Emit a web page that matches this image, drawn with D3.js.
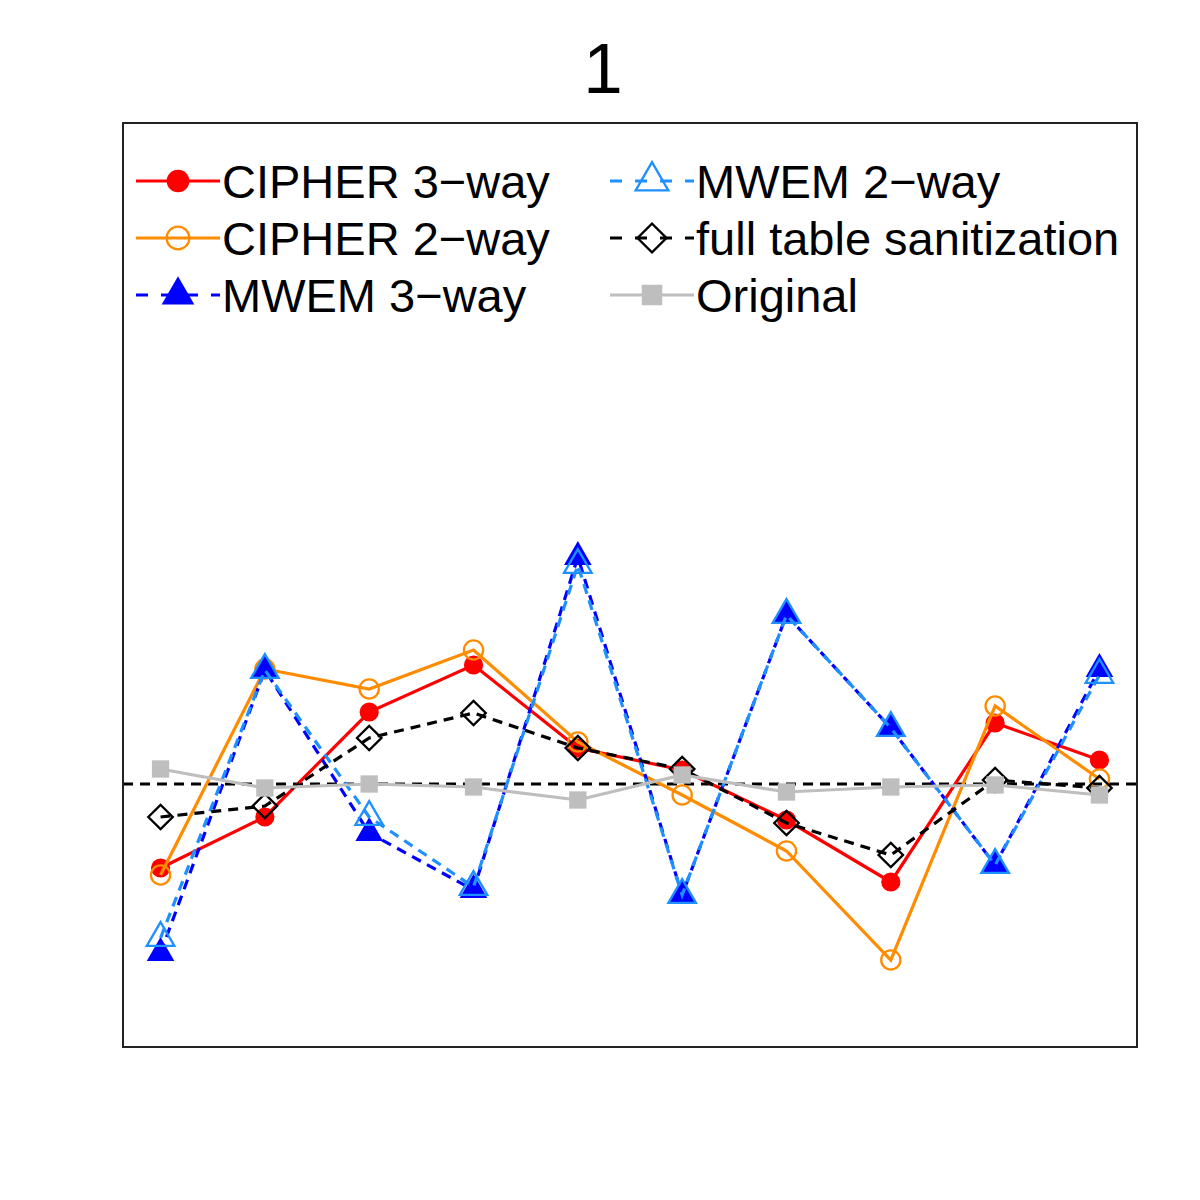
<!DOCTYPE html>
<html>
<head>
<meta charset="utf-8">
<script src="https://cdn.jsdelivr.net/npm/d3@7"></script>
<style>
  body { margin: 0; background: #fff; }
  text { font-family: "Liberation Sans", Arial, sans-serif; }
</style>
</head>
<body>
<svg id="chart" width="1200" height="1200"></svg>
<script>
// x positions are just the query index 1..10
const queries = [1, 2, 3, 4, 5, 6, 7, 8, 9, 10];

const cipher3 = [-0.84, -0.33, 0.72, 1.19, 0.36, 0.14, -0.36, -0.98, 0.61, 0.24];
const cipher2 = [-0.91, 1.15, 0.95, 1.34, 0.42, -0.11, -0.67, -1.76, 0.78, 0.05];
const mwem3 = [-1.69, 1.14, -0.49, -1.06, 2.27, -1.11, 1.69, 0.56, -0.81, 1.15];
const mwem2 = [-1.54, 1.14, -0.33, -1.03, 2.19, -1.11, 1.69, 0.56, -0.81, 1.09];
const fullTable = [-0.33, -0.22, 0.46, 0.71, 0.36, 0.15, -0.39, -0.71, 0.04, -0.04];
const original = [0.15, -0.04, 0.00, -0.03, -0.16, 0.09, -0.08, -0.03, -0.01, -0.11];

const seriesNames = ['CIPHER 3\u2212way', 'CIPHER 2\u2212way', 'MWEM 3\u2212way',
  'MWEM 2\u2212way', 'full table sanitization', 'Original'];

const chartTitle = '1';

const series = [
  { name: seriesNames[0], values: cipher3, color: '#ff0000', dash: null, shape: 'circle', fill: true },
  { name: seriesNames[1], values: cipher2, color: '#ff8c00', dash: null, shape: 'circle', fill: false },
  { name: seriesNames[2], values: mwem3, color: '#0000ff', dash: '10,7', shape: 'triangle', fill: true },
  { name: seriesNames[3], values: mwem2, color: '#1e90ff', dash: '10,7', shape: 'triangle', fill: false },
  { name: seriesNames[4], values: fullTable, color: '#000000', dash: '10,7', shape: 'diamond', fill: false },
  { name: seriesNames[5], values: original, color: '#bebebe', dash: null, shape: 'square', fill: true }
];

const box = { left: 123, right: 1137, top: 123, bottom: 1047 };

const svg = d3.select('#chart');

const x = d3.scaleLinear()
  .domain([0.64, 10.36])
  .range([box.left, box.right]);

const y = d3.scaleLinear()
  .domain([-2.63, 6.61])
  .range([box.bottom, box.top]);

const symbolFor = {
  circle: d3.symbolCircle,
  triangle: d3.symbolTriangle,
  diamond: d3.symbolSquare,
  square: d3.symbolSquare
};
const sizeFor = { circle: 290, triangle: 330, diamond: 300, square: 300 };

function drawMarker(g, s, cx, cy, k = 1) {
  const p = g.append('path')
    .attr('d', d3.symbol().type(symbolFor[s.shape]).size(sizeFor[s.shape] * k)())
    .attr('transform', `translate(${cx},${cy})` + (s.shape === 'diamond' ? ' rotate(45)' : ''));
  if (s.fill) {
    p.attr('fill', s.color).attr('stroke', 'none');
  } else {
    p.attr('fill', 'none').attr('stroke', s.color).attr('stroke-width', 2.3);
  }
}

// reference line at zero
svg.append('line')
  .attr('x1', box.left).attr('x2', box.right)
  .attr('y1', y(0)).attr('y2', y(0))
  .attr('stroke', '#000')
  .attr('stroke-width', 3)
  .attr('stroke-dasharray', '10,7');

const line = d3.line()
  .x((d, i) => x(queries[i]))
  .y(d => y(d));

series.forEach(s => {
  const g = svg.append('g').classed('series', true);
  g.append('path')
    .datum(s.values)
    .attr('d', line)
    .attr('fill', 'none')
    .attr('stroke', s.color)
    .attr('stroke-width', 3.2)
    .attr('stroke-dasharray', s.dash);
  s.values.forEach((v, i) => drawMarker(g, s, x(queries[i]), y(v)));
});

// plot border
svg.append('rect')
  .attr('x', box.left).attr('y', box.top)
  .attr('width', box.right - box.left)
  .attr('height', box.bottom - box.top)
  .attr('fill', 'none')
  .attr('stroke', '#222')
  .attr('stroke-width', 2);

svg.append('text')
  .attr('x', 603)
  .attr('y', 93)
  .attr('text-anchor', 'middle')
  .attr('font-size', 71)
  .text(chartTitle);

// legend, two columns of three
const legend = svg.append('g').classed('legend', true);
series.forEach((s, i) => {
  const col = Math.floor(i / 3);
  const row = i % 3;
  const lx = col === 0 ? 136 : 610;
  const ly = 181 + row * 57;
  const g = legend.append('g');
  g.append('line')
    .attr('x1', lx).attr('x2', lx + 84)
    .attr('y1', ly).attr('y2', ly)
    .attr('stroke', s.color)
    .attr('stroke-width', 3)
    .attr('stroke-dasharray', s.dash ? '12,13' : null);
  drawMarker(g, s, lx + 42, ly, 1.4);
  g.append('text')
    .attr('x', lx + 86)
    .attr('y', ly + 17)
    .attr('font-size', 47)
    .text(s.name);
});
</script>
</body>
</html>
